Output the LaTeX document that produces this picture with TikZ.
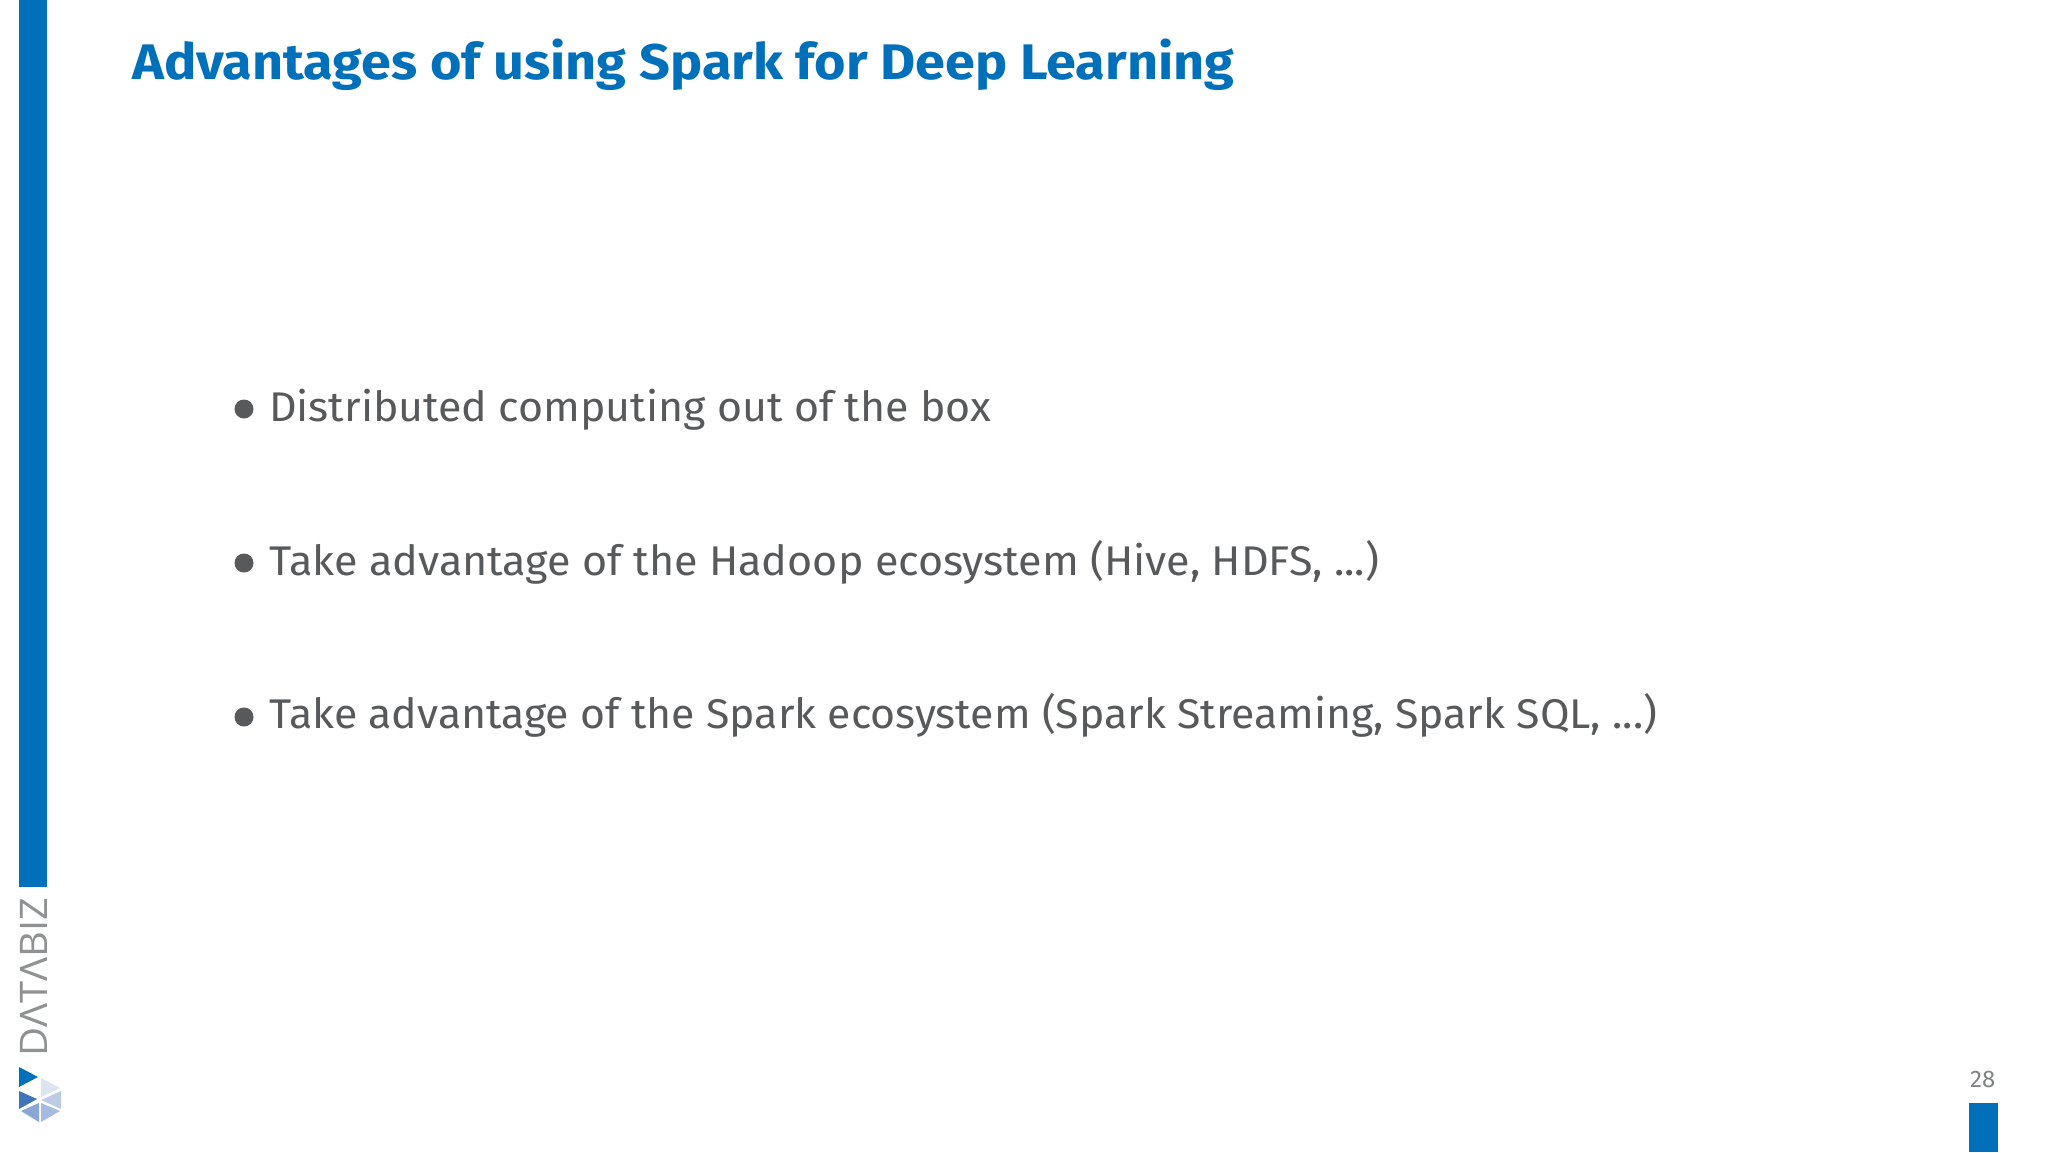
\documentclass[tikz,border=0pt]{standalone}
\usepackage{fontspec}
\usepackage{graphicx}
\setmainfont{Fira Sans}
\newfontfamily\logofont{Open Sans}
\definecolor{brand}{HTML}{0070BA}
\definecolor{bodygrey}{HTML}{58595B}
\definecolor{numgrey}{HTML}{808285}
\definecolor{logogrey}{HTML}{8F9193}
\newcommand{\fitw}[2]{\resizebox{#1}{\height}{#2}}
\tikzset{
  x=1pt,y=-1pt,
  title/.style={anchor=base west,inner sep=0pt,text=brand,font=\fontsize{50}{60}\selectfont\bfseries},
  bodytext/.style={anchor=base west,inner sep=0pt,text=bodygrey,font=\fontsize{41.5}{50}\selectfont},
  dot/.style={circle,fill=bodygrey,draw=none,minimum size=19pt,inner sep=0pt},
  bar/.style={fill=brand,draw=none},
}
\begin{document}
\begin{tikzpicture}
\useasboundingbox (0,0) rectangle (2048,1152);
\fill[white] (0,0) rectangle (2048,1152);
% bars
\fill[bar] (19,0) rectangle (47,887);
\fill[bar] (1969,1103) rectangle (1998,1152);
% title
\node[title] (t) at (132,79) {\fitw{1102pt}{Advantages of using Spark for Deep Learning}};
% bullets
\node[dot] (b1) at (244,409) {};
\node[dot] (b2) at (244,563) {};
\node[dot] (b3) at (244,717) {};
\node[bodytext] (l1) at (269,421) {\fitw{722pt}{Distributed computing out of the box}};
\node[bodytext] (l2) at (269,575) {\fitw{1110pt}{Take advantage of the Hadoop ecosystem (Hive, HDFS, ...)}};
\node[bodytext] (l3) at (269,728) {\fitw{1388pt}{Take advantage of the Spark ecosystem (Spark Streaming, Spark SQL, ...)}};
% page number
\node[anchor=base west,inner sep=0pt,text=numgrey,font=\fontsize{24}{28}\selectfont] (pn) at (1970,1087) {28};
% logo word
\node[anchor=base west,inner sep=0pt,rotate=90,text=logogrey,font=\logofont\fontsize{38}{40}\selectfont] (lw) at (47.5,1057) {\fitw{159pt}{DΛTΛBIZ}};
% logo icon
\fill[fill=brand] (19,1067) -- (38,1077) -- (19,1087) -- cycle;
\fill[fill={rgb,255:red,63;green,116;blue,184}] (19,1091) -- (37,1099) -- (19,1109) -- cycle;
\fill[fill={rgb,255:red,137;green,168;blue,214}] (21,1111) -- (39,1103) -- (39,1122) -- cycle;
\fill[fill={rgb,255:red,165;green,186;blue,222}] (41,1103) -- (60,1111) -- (41,1122) -- cycle;
\fill[fill={rgb,255:red,188;green,203;blue,230}] (41,1100) -- (61,1091) -- (61,1109) -- cycle;
\fill[fill={rgb,255:red,221;green,228;blue,241}] (41,1078) -- (60,1088) -- (41,1097) -- cycle;
\end{tikzpicture}
\end{document}
